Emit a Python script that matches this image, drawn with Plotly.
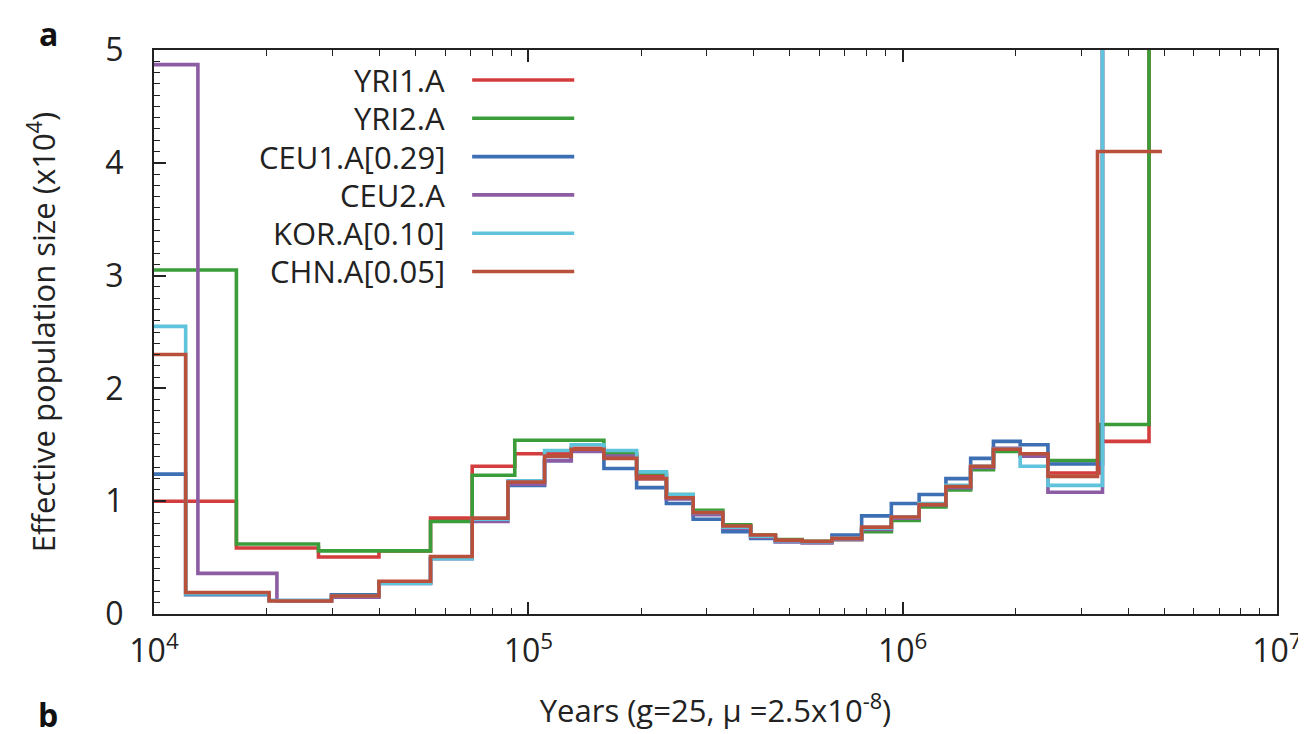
import plotly.graph_objects as go

# ---------------- data ----------------
names = ["YRI1.A", "YRI2.A", "CEU1.A[0.29]", "CEU2.A", "KOR.A[0.10]", "CHN.A[0.05]"]
colors = ["#d43d3d", "#3a9d3a", "#3c6fb3", "#8c5da3", "#5fc3dc", "#b9503c"]

# interval left edges (years) shared in the middle part
mid_edges = [39900, 54800, 70800, 88200, 110500, 130200, 159200, 194700, 233800,
             275600, 330900, 392600, 457100, 538900, 647100, 777000, 932800,
             1106600, 1304700, 1519300, 1747900, 2060400, 2444000]

yri_t = [10000, 16600, 27500, 39900, 54800, 70800, 92000, 130200] + mid_edges[6:] + [3370000, 4551000, 10000000]
yri1_v = [1.0, 0.585, 0.505, 0.56, 0.85, 1.31, 1.42, 1.47,
          1.40, 1.23, 1.04, 0.90, 0.78, 0.69, 0.65, 0.64, 0.66, 0.74, 0.84, 0.96, 1.12, 1.30, 1.45, 1.42, 1.25,
          1.53, 6.0, 6.0]
yri2_v = [3.05, 0.62, 0.56, 0.56, 0.82, 1.23, 1.54, 1.54,
          1.42, 1.25, 1.06, 0.92, 0.79, 0.70, 0.66, 0.645, 0.66, 0.73, 0.83, 0.95, 1.10, 1.28, 1.44, 1.40, 1.36,
          1.68, 6.0, 6.0]

ceu1_t = [10000, 12150, 20300, 29800] + mid_edges + [3418000, 10000000]
ceu1_v = [1.24, 0.17, 0.12, 0.17,
          0.28, 0.50, 0.84, 1.14, 1.36, 1.45, 1.29, 1.12, 0.98, 0.84, 0.73, 0.67, 0.64, 0.64, 0.70, 0.87,
          0.98, 1.06, 1.20, 1.38, 1.53, 1.50, 1.33, 6.0, 6.0]

ceu2_t = [10000, 13100, 21300, 29800] + mid_edges + [3418000, 10000000]
ceu2_v = [4.87, 0.36, 0.115, 0.15,
          0.27, 0.49, 0.82, 1.15, 1.36, 1.44, 1.40, 1.20, 1.02, 0.88, 0.76, 0.68, 0.64, 0.63, 0.66, 0.75,
          0.85, 0.97, 1.12, 1.30, 1.47, 1.40, 1.08, 6.0, 6.0]

kor_t = [10000, 12150, 20300, 29800] + mid_edges + [3418000, 10000000]
kor_v = [2.55, 0.18, 0.12, 0.16,
         0.27, 0.49, 0.84, 1.18, 1.45, 1.50, 1.45, 1.26, 1.06, 0.90, 0.77, 0.69, 0.65, 0.64, 0.67, 0.76,
         0.86, 0.98, 1.14, 1.31, 1.46, 1.31, 1.14, 6.0, 6.0]

chn_t = [10000, 12150, 20300, 29800] + mid_edges + [3315000, 4927000]
chn_v = [2.30, 0.19, 0.115, 0.16,
         0.29, 0.51, 0.85, 1.17, 1.40, 1.46, 1.38, 1.20, 1.03, 0.90, 0.78, 0.70, 0.655, 0.645, 0.67, 0.77,
         0.86, 0.97, 1.13, 1.31, 1.46, 1.42, 1.22, 4.1, 4.1]

series_t = [yri_t, yri_t, ceu1_t, ceu2_t, kor_t, chn_t]
series_v = [yri1_v, yri2_v, ceu1_v, ceu2_v, kor_v, chn_v]

x_major = [1e4, 1e5, 1e6, 1e7]
x_major_text = ["10<sup>4</sup>", "10<sup>5</sup>", "10<sup>6</sup>", "10<sup>7</sup>"]
y_major = [0, 1, 2, 3, 4, 5]

FONT = "Open Sans"

fig = go.Figure()
for nm, c, t, v in zip(names, colors, series_t, series_v):
    fig.add_trace(go.Scatter(x=t, y=v, mode="lines", name=nm,
                             line=dict(color=c, width=3.6, shape="hv"),
                             showlegend=False))

# manual gnuplot-style legend: text right-aligned, line sample to the right
leg_x_text = 0.2613
leg_x0, leg_x1 = 0.2833, 0.3742
leg_y0, leg_dy = 0.9468, 0.0679
for i, (nm, c) in enumerate(zip(names, colors)):
    yy = leg_y0 - i * leg_dy
    fig.add_annotation(x=leg_x_text, y=yy, xref="paper", yref="paper", text=nm,
                       showarrow=False, xanchor="right", yanchor="middle",
                       font=dict(family=FONT, size=31, color="#222222"))
    fig.add_shape(type="line", xref="paper", yref="paper", x0=leg_x0, x1=leg_x1,
                  y0=yy, y1=yy, line=dict(color=c, width=3.6))

# panel letters
fig.add_annotation(x=-0.094, y=1.030, xref="paper", yref="paper", text="<b>a</b>",
                   showarrow=False, xanchor="center", yanchor="middle",
                   font=dict(family=FONT, size=32, color="#111111"))
fig.add_annotation(x=-0.094, y=-0.178, xref="paper", yref="paper", text="<b>b</b>",
                   showarrow=False, xanchor="center", yanchor="middle",
                   font=dict(family=FONT, size=32, color="#111111"))

minor_x = [m * 10 ** e for e in (4, 5, 6) for m in range(2, 10)]

fig.update_xaxes(type="log", range=[4, 7], tickvals=x_major, ticktext=x_major_text,
                 ticks="inside", ticklen=12, tickwidth=1.5, tickcolor="#222222",
                 minor=dict(tickvals=minor_x, ticks="inside", ticklen=6, tickwidth=1.2, tickcolor="#222222"),
                 showline=True, linecolor="#222222", linewidth=2, mirror="ticks",
                 showgrid=False, zeroline=False,
                 tickfont=dict(family=FONT, size=32, color="#222222"),
                 ticklabelstandoff=8,
                 title=dict(text="Years (g=25, \u03bc =2.5x10<sup>-8</sup>)",
                            font=dict(family=FONT, size=31, color="#222222"), standoff=30))
fig.update_yaxes(range=[0, 5], tickvals=y_major,
                 ticks="inside", ticklen=12, tickwidth=1.5, tickcolor="#222222",
                 minor=dict(dtick=0.1, ticks="inside", ticklen=6, tickwidth=1.2, tickcolor="#222222"),
                 showline=True, linecolor="#222222", linewidth=2, mirror=True,
                 showgrid=False, zeroline=False,
                 tickfont=dict(family=FONT, size=32, color="#222222"),
                 ticklabelstandoff=22,
                 title=dict(text="Effective population size (x10<sup>4</sup>)",
                            font=dict(family=FONT, size=31, color="#222222"), standoff=40))

fig.update_layout(width=1306, height=734,
                  margin=dict(l=146, r=27, t=42, b=128),
                  paper_bgcolor="white", plot_bgcolor="white",
                  showlegend=False)

fig.write_html("out.html")
